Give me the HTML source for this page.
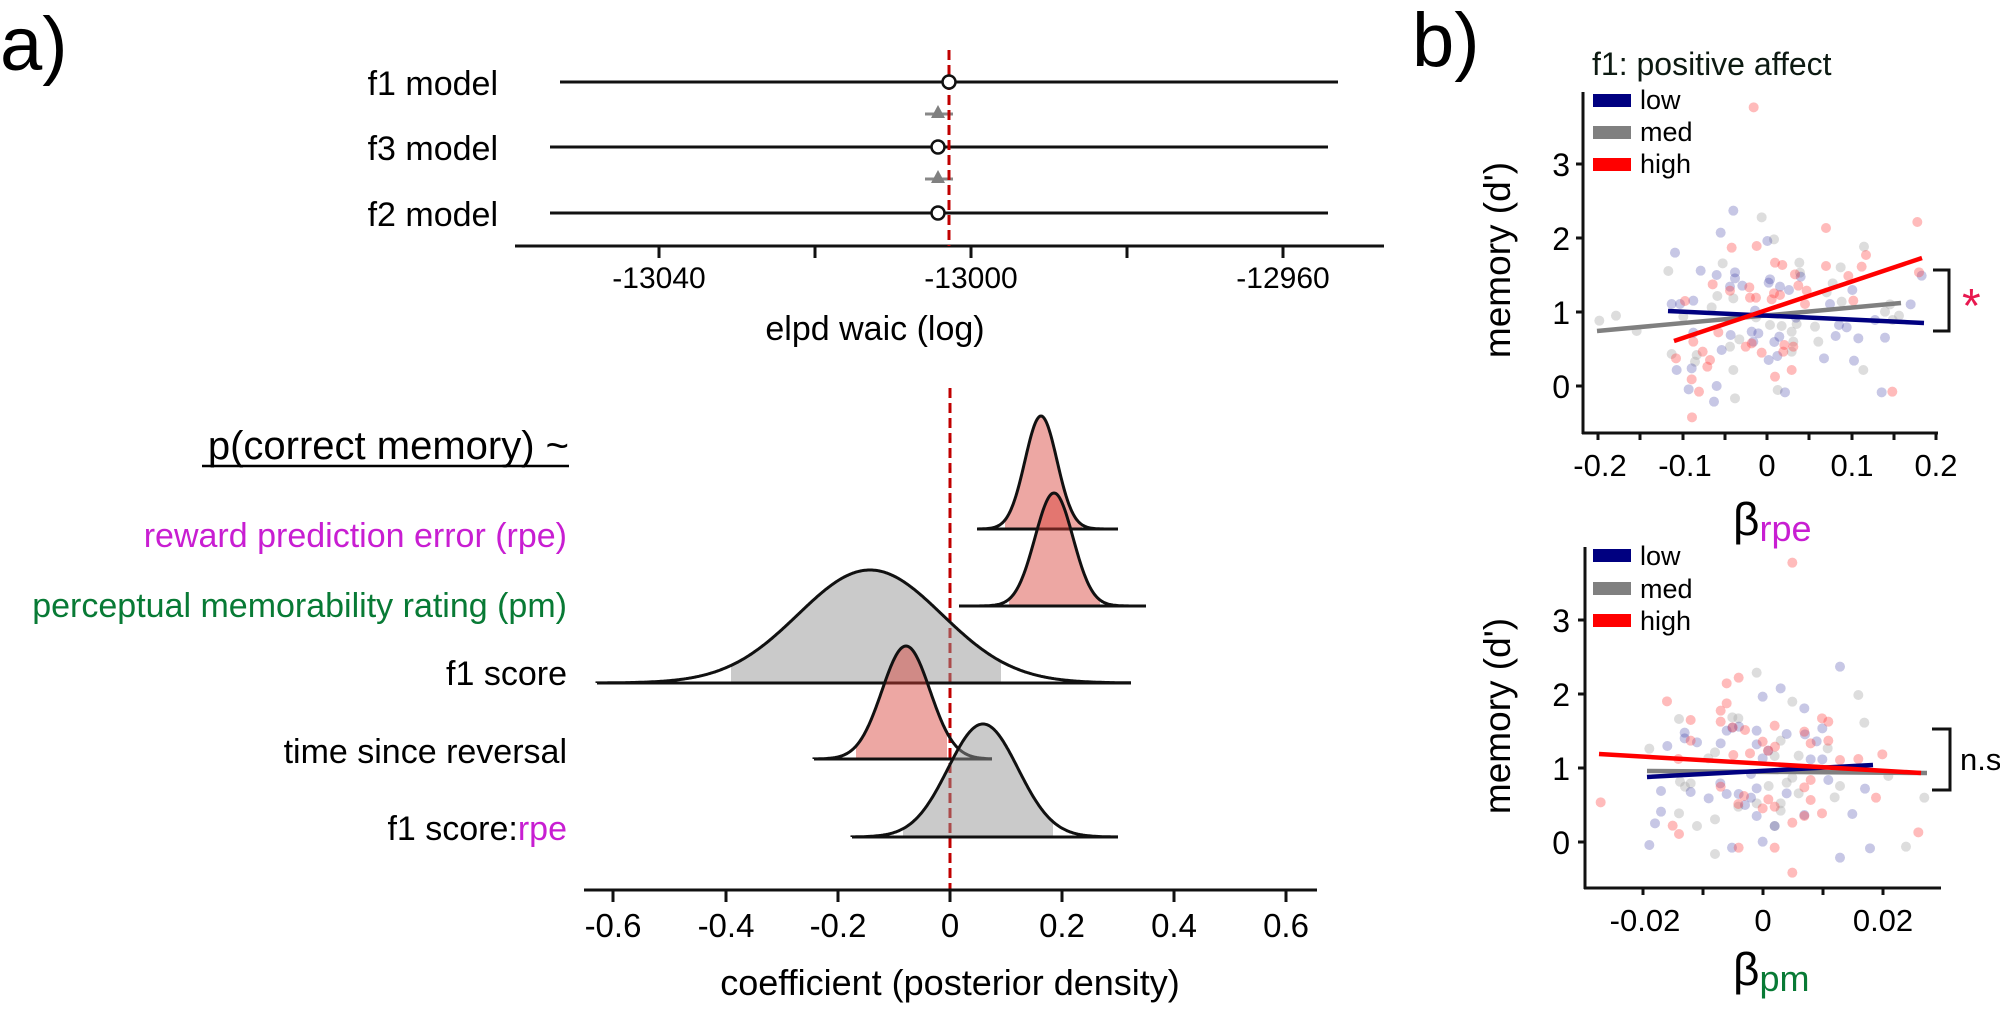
<!DOCTYPE html>
<html><head><meta charset="utf-8">
<style>
html,body{margin:0;padding:0;background:#fff;}
svg{display:block;font-family:"Liberation Sans",Arial,sans-serif;}
</style></head>
<body>
<svg id="s" width="2000" height="1010" viewBox="0 0 2000 1010" xmlns="http://www.w3.org/2000/svg">
<rect width="2000" height="1010" fill="#fff"/>
<text x="0" y="70" font-size="76">a)</text>
<text x="1412" y="66" font-size="76">b)</text>

<!-- top plot -->
<g font-size="34" text-anchor="end">
<text x="498" y="95">f1 model</text>
<text x="498" y="160">f3 model</text>
<text x="498" y="226">f2 model</text>
</g>
<g stroke="#111" stroke-width="3">
<line x1="560" y1="82" x2="1338" y2="82"/>
<line x1="550" y1="147" x2="1328" y2="147"/>
<line x1="550" y1="213" x2="1328" y2="213"/>
<line x1="515" y1="246" x2="1384" y2="246"/>
<line x1="659" y1="246" x2="659" y2="258"/>
<line x1="815" y1="246" x2="815" y2="258"/>
<line x1="971" y1="246" x2="971" y2="258"/>
<line x1="1127" y1="246" x2="1127" y2="258"/>
<line x1="1283" y1="246" x2="1283" y2="258"/>
</g>
<g stroke="#888" stroke-width="3"><line x1="925" y1="114" x2="953" y2="114"/><line x1="925" y1="179" x2="953" y2="179"/></g>
<polygon points="938,105 931,118 945,118" fill="#808080"/>
<polygon points="938,170 931,183 945,183" fill="#808080"/>
<line x1="949" y1="50" x2="949" y2="246" stroke="#c00000" stroke-width="3" stroke-dasharray="10,5"/>
<g fill="#fff" stroke="#111" stroke-width="2.5">
<circle cx="949" cy="82" r="6.5"/><circle cx="938" cy="147" r="6.5"/><circle cx="938" cy="213" r="6.5"/>
</g>
<g font-size="30" text-anchor="middle">
<text x="659" y="288">-13040</text><text x="971" y="288">-13000</text><text x="1283" y="288">-12960</text>
</g>
<text x="875" y="340" font-size="34" text-anchor="middle">elpd waic (log)</text>

<!-- ridge labels -->
<g font-size="34" text-anchor="end">
<text x="569" y="459" font-size="40">p(correct memory) ~</text>
<text x="567" y="547" fill="#c81ed2">reward prediction error (rpe)</text>
<text x="567" y="617" fill="#087a35">perceptual memorability rating (pm)</text>
<text x="567" y="685">f1 score</text>
<text x="567" y="763">time since reversal</text>
<text x="567" y="840">f1 score:<tspan fill="#c81ed2">rpe</tspan></text>
</g>
<line x1="202" y1="466" x2="569" y2="466" stroke="#000" stroke-width="2.5"/>

<line x1="950" y1="388" x2="950" y2="890" stroke="#c00000" stroke-width="3" stroke-dasharray="10,5"/>
<g id="ridges"></g>
<g stroke="#111" stroke-width="3">
<line x1="584" y1="890" x2="1317" y2="890"/>
<line x1="613" y1="890" x2="613" y2="902"/><line x1="726" y1="890" x2="726" y2="902"/><line x1="838" y1="890" x2="838" y2="902"/><line x1="950" y1="890" x2="950" y2="902"/><line x1="1062" y1="890" x2="1062" y2="902"/><line x1="1174" y1="890" x2="1174" y2="902"/><line x1="1286" y1="890" x2="1286" y2="902"/>
</g>
<g font-size="33" text-anchor="middle">
<text x="613" y="937">-0.6</text><text x="726" y="937">-0.4</text><text x="838" y="937">-0.2</text><text x="950" y="937">0</text><text x="1062" y="937">0.2</text><text x="1174" y="937">0.4</text><text x="1286" y="937">0.6</text>
</g>
<text x="950" y="995" font-size="36" text-anchor="middle">coefficient (posterior density)</text>

<!-- right upper -->
<text x="1592" y="75" font-size="32" fill="#0d1a12">f1: positive affect</text>
<g id="sc1" transform="translate(1540,40) scale(0.33333)"></g>
<g stroke-width="4.5" stroke-linecap="butt">
<line x1="1597" y1="331" x2="1901" y2="303" stroke="#808080"/>
<line x1="1668" y1="311" x2="1924" y2="323" stroke="#000080"/>
<line x1="1674" y1="341" x2="1922" y2="258" stroke="#ff0000"/>
</g>
<g stroke="#111" stroke-width="3" fill="none">
<line x1="1583" y1="92" x2="1583" y2="434"/>
<line x1="1582" y1="433" x2="1938" y2="433"/>
<line x1="1576" y1="164" x2="1583" y2="164"/><line x1="1576" y1="238" x2="1583" y2="238"/><line x1="1576" y1="312" x2="1583" y2="312"/><line x1="1576" y1="386" x2="1583" y2="386"/>
<line x1="1598" y1="433" x2="1598" y2="440"/><line x1="1640" y1="433" x2="1640" y2="440"/><line x1="1683" y1="433" x2="1683" y2="440"/><line x1="1725" y1="433" x2="1725" y2="440"/><line x1="1767" y1="433" x2="1767" y2="440"/><line x1="1809" y1="433" x2="1809" y2="440"/><line x1="1852" y1="433" x2="1852" y2="440"/><line x1="1894" y1="433" x2="1894" y2="440"/><line x1="1936" y1="433" x2="1936" y2="440"/>
<polyline points="1933,270 1949,270 1949,331 1933,331"/>
</g>
<text x="1962" y="322" font-size="48" fill="#e8184f">*</text>
<g font-size="32" text-anchor="end"><text x="1570" y="176">3</text><text x="1570" y="250">2</text><text x="1570" y="324">1</text><text x="1570" y="398">0</text></g>
<g font-size="31" text-anchor="middle"><text x="1600" y="476">-0.2</text><text x="1685" y="476">-0.1</text><text x="1767" y="476">0</text><text x="1852" y="476">0.1</text><text x="1936" y="476">0.2</text></g>
<rect x="1593" y="94" width="38" height="13" fill="#000080"/><rect x="1593" y="126" width="38" height="13" fill="#808080"/><rect x="1593" y="158" width="38" height="13" fill="#ff0000"/>
<g font-size="27"><text x="1640" y="109">low</text><text x="1640" y="141">med</text><text x="1640" y="173">high</text></g>
<text transform="translate(1510,260) rotate(-90)" font-size="37" text-anchor="middle">memory (d')</text>
<text x="1733" y="535" font-size="46">β<tspan font-size="36" fill="#c81ed2" dy="6">rpe</tspan></text>

<!-- right lower -->
<g id="sc2" transform="translate(1480,500) scale(0.33333)"></g>
<g stroke-width="4.5">
<line x1="1647" y1="771" x2="1927" y2="773" stroke="#808080"/>
<line x1="1647" y1="777" x2="1873" y2="765" stroke="#000080"/>
<line x1="1599" y1="754" x2="1921" y2="773" stroke="#ff0000"/>
</g>
<g stroke="#111" stroke-width="3" fill="none">
<line x1="1585" y1="547" x2="1585" y2="889"/>
<line x1="1584" y1="888" x2="1941" y2="888"/>
<line x1="1578" y1="620" x2="1585" y2="620"/><line x1="1578" y1="694" x2="1585" y2="694"/><line x1="1578" y1="768" x2="1585" y2="768"/><line x1="1578" y1="842" x2="1585" y2="842"/>
<line x1="1643" y1="888" x2="1643" y2="895"/><line x1="1703" y1="888" x2="1703" y2="895"/><line x1="1763" y1="888" x2="1763" y2="895"/><line x1="1823" y1="888" x2="1823" y2="895"/><line x1="1883" y1="888" x2="1883" y2="895"/>
<polyline points="1932,729 1950,729 1950,790 1932,790"/>
</g>
<text x="1960" y="770" font-size="31">n.s</text>
<g font-size="32" text-anchor="end"><text x="1570" y="632">3</text><text x="1570" y="706">2</text><text x="1570" y="780">1</text><text x="1570" y="854">0</text></g>
<g font-size="31" text-anchor="middle"><text x="1645" y="931">-0.02</text><text x="1763" y="931">0</text><text x="1883" y="931">0.02</text></g>
<rect x="1593" y="549" width="38" height="13" fill="#000080"/><rect x="1593" y="582" width="38" height="13" fill="#808080"/><rect x="1593" y="614" width="38" height="13" fill="#ff0000"/>
<g font-size="27"><text x="1640" y="565">low</text><text x="1640" y="598">med</text><text x="1640" y="630">high</text></g>
<text transform="translate(1510,716) rotate(-90)" font-size="37" text-anchor="middle">memory (d')</text>
<text x="1733" y="985" font-size="46">β<tspan font-size="36" fill="#087a35" dy="6">pm</tspan></text>
</svg>
<script>
var NS="http://www.w3.org/2000/svg";
function el(p,t,a){var e=document.createElementNS(NS,t);for(var k in a)e.setAttribute(k,a[k]);p.appendChild(e);return e;}
var R=document.getElementById("ridges");
var ridges=[
 {mu:1041,sd:16,b:529,l:977,r:1118,sl:1005,sr:1082,c:"rgba(215,60,50,0.45)"},
 {mu:1054,sd:19,b:606,l:959,r:1146,sl:1009,sr:1100,c:"rgba(215,60,50,0.45)"},
 {mu:870,sd:72,b:683,l:597,r:1131,sl:731,sr:1001,c:"rgba(150,150,150,0.5)"},
 {mu:906,sd:24,b:759,l:814,r:992,sl:856,sr:947,c:"rgba(215,60,50,0.45)"},
 {mu:983,sd:35,b:837,l:852,r:1118,sl:903,sr:1053,c:"rgba(150,150,150,0.5)"}];
ridges.forEach(function(g){
 function y(x){return g.b-113*Math.exp(-(x-g.mu)*(x-g.mu)/(2*g.sd*g.sd));}
 var f="M"+g.sl+","+g.b;
 for(var x=g.sl;x<=g.sr;x+=1)f+=" L"+x+","+y(x).toFixed(1);
 f+=" L"+g.sr+","+g.b+" Z";
 el(R,"path",{d:f,fill:g.c});
 var o="M"+g.l+","+g.b;
 for(var x=g.l;x<=g.r;x+=1)o+=" L"+x+","+y(x).toFixed(1);
 el(R,"path",{d:o,fill:"none",stroke:"#111","stroke-width":3});
 el(R,"line",{x1:g.l,y1:g.b,x2:g.r,y2:g.b,stroke:"#111","stroke-width":3});
});
function pts(id,data){var G=document.getElementById(id);
 [["gray","rgba(170,170,170,0.4)"],["blue","rgba(30,30,150,0.25)"],["red","rgba(255,60,60,0.35)"]].forEach(function(c){
  data[c[0]].forEach(function(p){el(G,"circle",{cx:p[0],cy:p[1],r:15,fill:c[1]});});});}
pts("sc1",{
red:[[641,202],[1132,546],[858,564],[650,618],[575,623],[978,645],[858,678],[727,675],[705,668],[965,680],[1137,697],[925,708],[765,703],[518,733],[775,737],[628,742],[570,752],[800,752],[702,760],[720,765],[630,773],[648,773],[695,778],[940,782],[435,783],[795,792],[535,877],[460,905],[617,920],[733,915],[760,920],[635,910],[665,938],[488,935],[408,955],[510,960],[502,980],[755,990],[705,1010],[455,1018],[477,1055],[1057,1055],[456,1132],[730,935]],
blue:[[580,512],[542,578],[405,638],[682,603],[482,692],[530,705],[585,697],[585,715],[690,718],[686,728],[782,710],[607,737],[720,740],[747,750],[937,750],[570,740],[460,782],[395,792],[420,792],[1112,793],[1145,707],[870,792],[645,812],[768,833],[897,855],[920,862],[460,878],[635,875],[655,880],[572,885],[718,890],[703,906],[887,888],[955,895],[1035,893],[545,930],[712,948],[686,960],[852,955],[942,962],[410,990],[455,985],[446,1048],[530,1038],[522,1085],[735,1057],[1025,1057],[1005,840],[640,905]],
gray:[[665,532],[702,598],[972,620],[548,670],[385,693],[778,668],[902,682],[780,698],[878,730],[532,768],[515,802],[430,830],[178,842],[228,827],[290,873],[690,855],[725,858],[770,852],[825,860],[835,905],[905,785],[1035,815],[1058,840],[1077,827],[970,990],[580,990],[585,1075],[713,1050],[395,942],[470,945],[465,965],[598,898],[755,875],[760,905],[755,935],[570,920],[648,832],[580,775],[1050,793],[860,757]]});
pts("sc2",{
red:[[937,188],[776,533],[740,550],[561,604],[740,610],[722,632],[722,665],[632,660],[1026,655],[1045,665],[884,677],[973,695],[795,690],[758,682],[632,722],[848,725],[885,740],[864,752],[810,760],[992,730],[1045,722],[1207,763],[1135,777],[1080,780],[760,765],[722,860],[595,777],[973,862],[992,840],[992,900],[1188,893],[865,898],[848,925],[884,920],[775,912],[792,888],[362,907],[578,977],[597,1002],[937,968],[973,948],[1026,940],[884,1043],[776,1043],[1315,997],[937,1118]],
blue:[[1080,500],[902,565],[848,590],[973,625],[830,692],[920,702],[975,703],[1027,685],[1010,724],[740,692],[777,680],[757,683],[614,698],[614,715],[651,727],[722,730],[562,738],[830,733],[865,752],[848,775],[992,778],[1027,778],[1045,840],[1155,866],[830,865],[813,822],[721,850],[632,876],[543,873],[740,882],[776,882],[686,895],[813,893],[795,915],[830,948],[920,880],[973,945],[1117,942],[543,935],[525,970],[508,1035],[756,1043],[848,1025],[884,978],[1170,1045],[1080,1073]],
gray:[[830,518],[757,652],[775,655],[937,605],[1135,585],[1153,668],[597,657],[508,746],[705,757],[685,775],[902,722],[956,767],[1043,745],[884,768],[600,845],[615,860],[632,850],[866,858],[937,833],[920,848],[956,880],[830,910],[902,910],[902,932],[1064,892],[1080,858],[1225,828],[1333,893],[1278,1040],[597,940],[651,978],[705,958],[705,1062],[884,978],[775,920]]});
</script>
</body></html>
